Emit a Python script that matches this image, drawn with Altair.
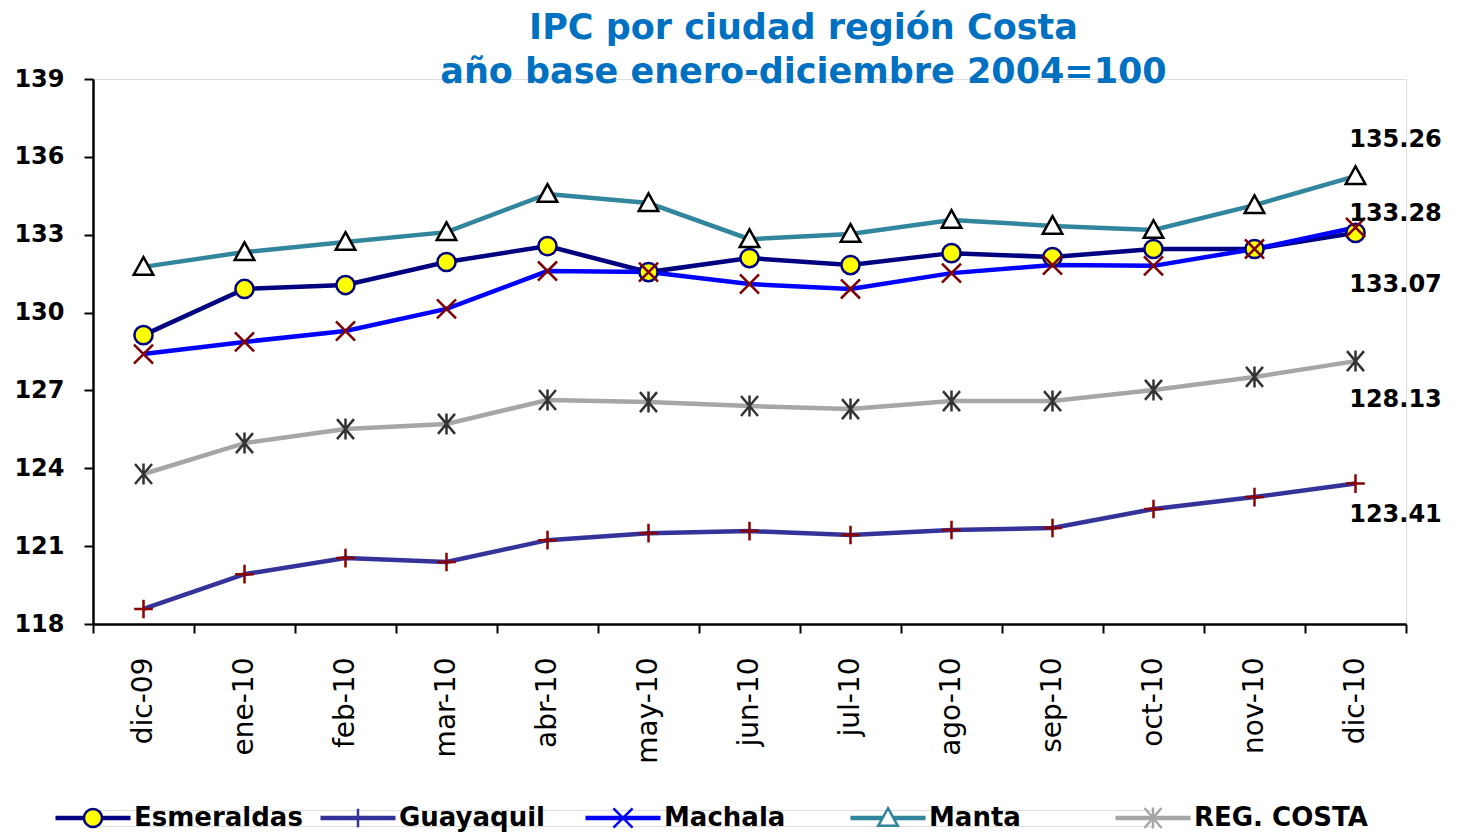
import altair as alt
import pandas as pd

months = ["dic-09", "ene-10", "feb-10", "mar-10", "abr-10", "may-10", "jun-10",
          "jul-10", "ago-10", "sep-10", "oct-10", "nov-10", "dic-10"]

series = ["Esmeraldas", "Guayaquil", "Machala", "Manta", "REG. COSTA"]

esmeraldas = [129.13, 130.91, 131.06, 131.95, 132.56, 131.56, 132.10, 131.83, 132.29, 132.14, 132.45, 132.45, 133.07]
guayaquil = [118.58, 119.92, 120.54, 120.39, 121.23, 121.50, 121.58, 121.43, 121.62, 121.70, 122.43, 122.89, 123.41]
machala = [128.40, 128.87, 129.29, 130.14, 131.60, 131.56, 131.10, 130.91, 131.52, 131.83, 131.80, 132.45, 133.28]
manta = [131.76, 132.33, 132.72, 133.10, 134.57, 134.22, 132.83, 133.03, 133.57, 133.34, 133.18, 134.14, 135.26]
reg_costa = [123.78, 124.97, 125.51, 125.71, 126.63, 126.55, 126.40, 126.28, 126.59, 126.59, 127.02, 127.52, 128.13]

values = [esmeraldas, guayaquil, machala, manta, reg_costa]

y_ticks = [118, 121, 124, 127, 130, 133, 136, 139]

title_lines = ["IPC por ciudad región Costa", "año base enero-diciembre 2004=100"]

# styles
line_colors = ["#000080", "#333399", "#0000FF", "#31859C", "#A6A6A6"]
marker_shapes = ["circle",
                 "M-1,0L1,0M0,-1L0,1",
                 "M-1,-1L1,1M-1,1L1,-1",
                 "M0,-1L1,0.8L-1,0.8Z",
                 "M-0.85,-1L0.85,1M-0.85,1L0.85,-1M0,-1.05L0,1.05"]
marker_fills = ["#FFFF00", "transparent", "transparent", "#FFFFFF", "transparent"]
marker_strokes = ["#000080", "#8B0000", "#800000", "#000000", "#333333"]
marker_sizes = [330, 400, 420, 460, 500]
label_dy = {"Esmeraldas": 52, "Guayaquil": 31, "Machala": -13, "Manta": -36, "REG. COSTA": 39}

FONT = "DejaVu Sans"

rows = []
for s, vals in zip(series, values):
    for m, v in zip(months, vals):
        rows.append({"serie": s, "mes": m, "valor": v})
df = pd.DataFrame(rows)

last = pd.DataFrame([{"serie": s, "mes": months[-1], "valor": vals[-1],
                      "txt": f"{vals[-1]:.2f}"} for s, vals in zip(series, values)])

color_scale = alt.Scale(domain=series, range=line_colors)
shape_scale = alt.Scale(domain=series, range=marker_shapes)
fill_scale = alt.Scale(domain=series, range=marker_fills)
stroke_scale = alt.Scale(domain=series, range=marker_strokes)
size_scale = alt.Scale(domain=series, range=marker_sizes)

x_enc = alt.X("mes:N", sort=months,
              scale=alt.Scale(type="band", paddingInner=0, paddingOuter=0),
              axis=alt.Axis(title=None, labelAngle=-90, tickBand="extent",
                            labelFont=FONT, labelFontSize=28, labelColor="#000000",
                            labelPadding=24, tickSize=9, tickWidth=2, tickColor="#000000",
                            domainColor="#000000", domainWidth=2.5, grid=False))
y_enc = alt.Y("valor:Q",
              scale=alt.Scale(domain=[118, 139], nice=False, zero=False),
              axis=alt.Axis(title=None, values=y_ticks, format="d",
                            labelFont=FONT, labelFontSize=24, labelFontWeight="bold",
                            labelColor="#000000", labelPadding=20,
                            tickSize=9, tickWidth=2, tickColor="#000000",
                            domainColor="#000000", domainWidth=2.5, grid=False))

base = alt.Chart(df)

lines = base.mark_line(strokeWidth=4.5).encode(
    x=x_enc, y=y_enc,
    color=alt.Color("serie:N", scale=color_scale, legend=None),
    detail="serie:N",
)

points = base.mark_point(opacity=1, fillOpacity=1, strokeWidth=2.5).encode(
    x=x_enc, y=y_enc,
    shape=alt.Shape("serie:N", scale=shape_scale, legend=None),
    fill=alt.Fill("serie:N", scale=fill_scale, legend=None),
    stroke=alt.Stroke("serie:N", scale=stroke_scale, legend=None),
    size=alt.Size("serie:N", scale=size_scale, legend=None),
)

label_layers = []
for s in series:
    label_layers.append(
        alt.Chart(last[last["serie"] == s]).mark_text(
            font=FONT, fontSize=24, fontWeight="bold", color="#000000",
            align="center", baseline="middle", dx=40, dy=label_dy[s]
        ).encode(x=x_enc, y=y_enc, text="txt:N")
    )

main = alt.layer(lines, points, *label_layers).properties(
    width=1313, height=545,
    title=alt.TitleParams(text=title_lines, font=FONT, fontSize=35, fontWeight="bold",
                          color="#0070C0", anchor="middle", dx=54, offset=-23,
                          lineHeight=44),
)

leg_df = pd.DataFrame({"serie": series})
leg_x = alt.X("serie:N", sort=series, scale=alt.Scale(type="point", padding=0), axis=None)
leg_base = alt.Chart(leg_df)
leg_line = leg_base.mark_point(shape="M-1,0L1,0", size=5625, strokeWidth=4.5, opacity=1).encode(
    x=leg_x,
    stroke=alt.Stroke("serie:N", scale=color_scale, legend=None),
)
leg_pts = leg_base.mark_point(opacity=1, fillOpacity=1, strokeWidth=2.5).encode(
    x=leg_x,
    shape=alt.Shape("serie:N", scale=shape_scale, legend=None),
    fill=alt.Fill("serie:N", scale=fill_scale, legend=None),
    stroke=alt.Stroke("serie:N", scale=stroke_scale, legend=None),
    size=alt.Size("serie:N", scale=size_scale, legend=None),
)
leg_txt = leg_base.mark_text(font=FONT, fontSize=26, fontWeight="bold", color="#000000",
                             align="left", baseline="middle", dx=41).encode(
    x=leg_x, text="serie:N")
legend = alt.layer(leg_line, leg_pts, leg_txt).properties(width=1060, height=16)

chart = alt.vconcat(main, legend, spacing=38).resolve_scale(
    color="independent", shape="independent", fill="independent",
    stroke="independent", size="independent"
).properties(
    padding={"left": 5, "top": 2, "right": 0, "bottom": 0}
).configure_view(stroke=None).configure(background="#FFFFFF")

chart.save("out.html", embed_options={"renderer": "svg", "actions": False})
